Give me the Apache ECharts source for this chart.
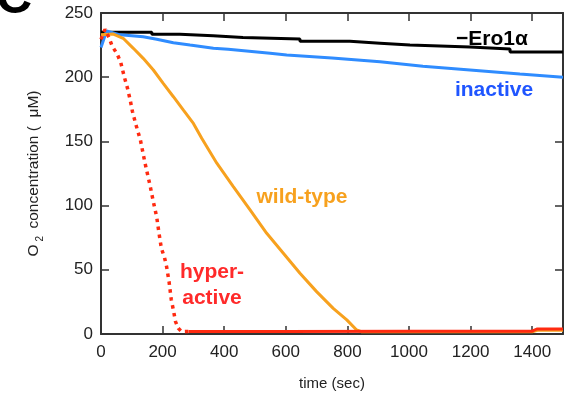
<!DOCTYPE html>
<html>
<head>
<meta charset="utf-8">
<script src="https://cdn.jsdelivr.net/npm/echarts@6/dist/echarts.min.js"></script>
<style>
  html, body { margin: 0; padding: 0; background: #fff; }
  #chart { width: 571px; height: 393px; }
</style>
</head>
<body>
<div id="chart"></div>
<script>
// time ticks / value ticks
const xTicks = { min: 0, max: 1500, interval: 200 };
const yTicks = { min: 0, max: 250, interval: 50 };

// -Ero1a (step trace)
const ero1Time = [0, 165, 256, 364, 461, 646, 808, 906, 1003, 1198, 1328, 1500];
const ero1Conc = [235, 233.4, 232.3, 231, 229.8, 228, 226.5, 225, 223.5, 222, 219.6, 219.6];

// inactive
const inactiveTime = [0, 18, 62, 137, 181, 235, 289, 365, 413, 549, 603, 750, 906, 1045, 1198, 1360, 1500];
const inactiveConc = [223.2, 236, 233, 231.5, 229.5, 226.9, 225, 222.5, 221.7, 218.6, 217.3, 215, 212, 208.5, 205.6, 202.5, 200];

// wild-type
const wildTime = [0, 40, 72, 105, 137, 170, 202, 235, 267, 300, 327, 376, 429, 484, 538, 592, 646, 700, 754, 798, 830, 845, 1000, 1200, 1400, 1420, 1500];
const wildConc = [233, 233.6, 230.3, 222.5, 214.7, 205.6, 195.2, 184.8, 174.5, 164, 152.4, 133, 115, 96.6, 78.4, 62.9, 47.3, 33, 20, 11, 3.1, 1.8, 1.8, 1.8, 1.8, 3, 3];

// hyper-active: fast drop (sparse samples) and the flat tail
const hyperDropTime = [0, 13, 27, 35, 43, 53, 64, 76, 86, 95, 102, 113, 128, 143, 159, 170, 181, 188, 196, 206, 213, 221, 228, 235, 242, 251, 262, 284];
const hyperDropConc = [229.5, 237.3, 230.3, 225, 221.7, 217.8, 211.6, 199.9, 191.4, 182, 173.4, 163.3, 151, 133, 116, 103, 90.9, 79, 66.7, 59.7, 52.4, 40.7, 27, 18.7, 9.6, 4.4, 1.8, 2];
const hyperFlatTime = [284, 600, 1000, 1400, 1415, 1500];
const hyperFlatConc = [2, 2, 2.2, 2.2, 3.9, 3.9];

const zip = (t, v) => t.map((x, i) => [x, v[i]]);

const FONT = 'Liberation Sans, Arial, Helvetica, sans-serif';
const axisColor = '#333';

const chart = echarts.init(document.getElementById('chart'));

const baseX = {
  type: 'value',
  min: xTicks.min,
  max: xTicks.max,
  interval: xTicks.interval,
  axisLine: { show: true, onZero: false, lineStyle: { color: axisColor, width: 2 } },
  axisTick: { show: true, inside: true, length: 8, lineStyle: { color: axisColor, width: 1.5 } },
  splitLine: { show: false }
};
const baseY = {
  type: 'value',
  min: yTicks.min,
  max: yTicks.max,
  interval: yTicks.interval,
  axisLine: { show: true, onZero: false, lineStyle: { color: axisColor, width: 2 } },
  axisTick: { show: true, inside: true, length: 8, lineStyle: { color: axisColor, width: 1.5 } },
  splitLine: { show: false }
};

const option = {
  animation: false,
  backgroundColor: '#fff',
  grid: { left: 101, right: 8, top: 13, bottom: 59, outerBoundsMode: 'none' },
  xAxis: [
    Object.assign({}, baseX, {
      position: 'bottom',
      name: 'time (sec)',
      nameLocation: 'middle',
      nameGap: 42,
      nameTextStyle: { fontFamily: FONT, fontSize: 15, color: '#222' },
      axisLabel: {
        fontFamily: FONT, fontSize: 17, color: '#222', margin: 10, showMaxLabel: false,
        formatter: v => String(v)
      }
    }),
    Object.assign({}, baseX, { position: 'top', axisLabel: { show: false } })
  ],
  yAxis: [
    Object.assign({}, baseY, {
      position: 'left',
      name: '{a|O}{b|2}{a| concentration (  μM)}',
      nameLocation: 'middle',
      nameGap: 56,
      nameTextStyle: {
        color: '#222',
        rich: {
          a: { fontFamily: FONT, fontSize: 15.5, color: '#222' },
          b: { fontFamily: FONT, fontSize: 10, color: '#222', padding: [12, 3, 0, 3] }
        }
      },
      axisLabel: { fontFamily: FONT, fontSize: 17, color: '#222', margin: 8 }
    }),
    Object.assign({}, baseY, { position: 'right', axisLabel: { show: false } })
  ],
  series: [
    {
      name: '-Ero1a', type: 'line', step: 'end', showSymbol: false,
      data: zip(ero1Time, ero1Conc),
      lineStyle: { color: '#000', width: 3 }
    },
    {
      name: 'inactive', type: 'line', showSymbol: false,
      data: zip(inactiveTime, inactiveConc),
      lineStyle: { color: '#2f8cff', width: 3 }
    },
    {
      name: 'wild-type', type: 'line', showSymbol: false,
      data: zip(wildTime, wildConc),
      lineStyle: { color: '#f7a11e', width: 3 }
    },
    {
      name: 'hyper-active', type: 'line', showSymbol: false,
      data: zip(hyperDropTime, hyperDropConc),
      lineStyle: { color: '#ff2a10', width: 3.5, type: [3.5, 4.5], cap: 'butt' }
    },
    {
      name: 'hyper-active tail', type: 'line', showSymbol: false,
      data: zip(hyperFlatTime, hyperFlatConc),
      lineStyle: { color: '#ff2a10', width: 3 }
    }
  ],
  graphic: [
    { type: 'text', x: -4, y: -1, style: { text: 'C', font: 'bold 50px ' + FONT, fill: '#000', textVerticalAlign: 'middle' } },
    { type: 'text', x: 492, y: 39, style: { text: '\u2212Ero1\u03b1', font: 'bold 21px ' + FONT, fill: '#000', textAlign: 'center', textVerticalAlign: 'middle' } },
    { type: 'text', x: 494, y: 90, style: { text: 'inactive', font: 'bold 21px ' + FONT, fill: '#1f55ff', textAlign: 'center', textVerticalAlign: 'middle' } },
    { type: 'text', x: 302, y: 197, style: { text: 'wild-type', font: 'bold 21px ' + FONT, fill: '#f7a11e', textAlign: 'center', textVerticalAlign: 'middle' } },
    { type: 'text', x: 212, y: 285, style: { text: 'hyper-\nactive', font: 'bold 21px ' + FONT, lineHeight: 26, fill: '#ff2a2a', textAlign: 'center', textVerticalAlign: 'middle' } }
  ]
};

chart.setOption(option);
</script>
</body>
</html>
